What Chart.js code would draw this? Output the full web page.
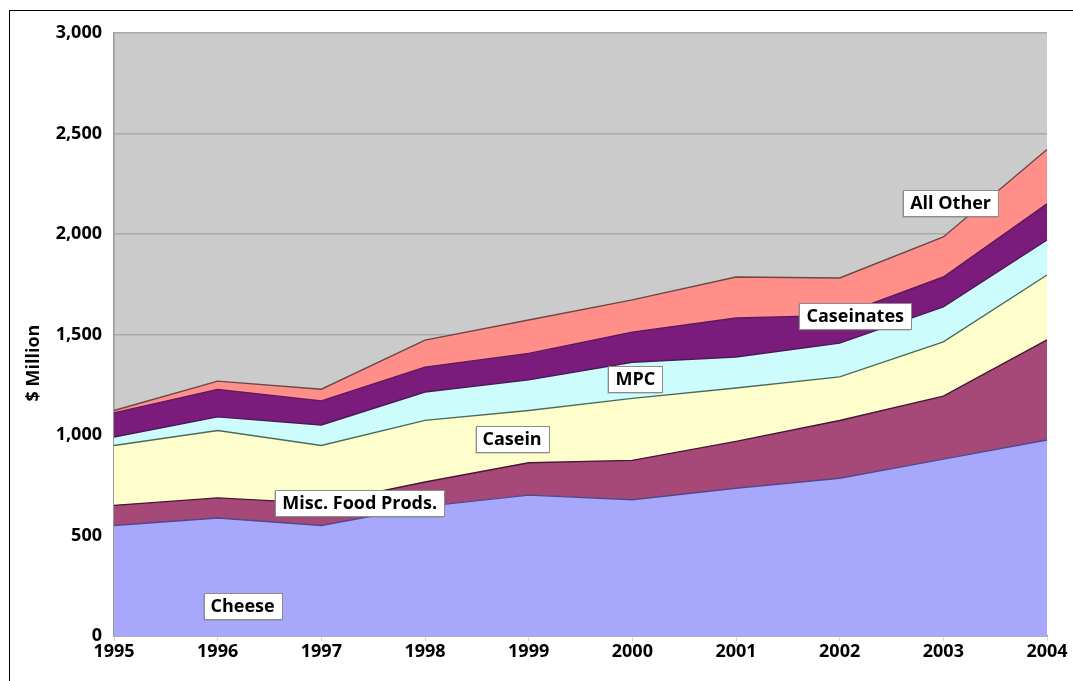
<!DOCTYPE html>
<html>
<head>
<meta charset="utf-8">
<title>U.S. dairy product imports, $ Million</title>
<script src="https://cdn.jsdelivr.net/npm/chart.js@4.4.1/dist/chart.umd.min.js"></script>
<style>
  html, body { margin: 0; padding: 0; background: #ffffff; }
  #wrap { position: relative; width: 1073px; height: 681px; }
  canvas { display: block; }
</style>
</head>
<body>
<div id="wrap"><canvas id="chart" width="1073" height="681"></canvas></div>
<script>
// Import values by product group, $ million
const years = ['1995', '1996', '1997', '1998', '1999', '2000', '2001', '2002', '2003', '2004'];
const cheese     = [550, 587, 550, 645, 701, 678, 735, 785, 880, 975];
const miscFood   = [100, 100, 110, 121, 161, 196, 233, 287, 313, 498];
const casein     = [298, 335, 288, 307, 260, 308, 266, 217, 270, 323];
const mpc        = [ 42,  68, 102, 141, 152, 180, 154, 168, 174, 174];
const caseinates = [120, 137, 120, 124, 132, 150, 194, 138, 149, 180];
const allOther   = [ 12,  41,  58, 134, 166, 160, 204, 186, 199, 270];
const yTicks = [0, 500, 1000, 1500, 2000, 2500, 3000];
const seriesNames = ['Cheese', 'Misc. Food Prods.', 'Casein', 'MPC', 'Caseinates', 'All Other'];

const FONT = '"Open Sans", "DejaVu Sans", sans-serif';

// Boxed series names, placed in data space (x = year index, y = $ million)
const areaLabels = [
  { text: seriesNames[0], x: 1.24, y: 149 },
  { text: seriesNames[1], x: 2.37, y: 662 },
  { text: seriesNames[2], x: 3.84, y: 980 },
  { text: seriesNames[3], x: 5.03, y: 1279 },
  { text: seriesNames[4], x: 7.15, y: 1592 },
  { text: seriesNames[5], x: 8.07, y: 2154 }
];

function area(label, data, fill, line, fillMode) {
  return {
    label: label,
    data: data,
    backgroundColor: fill,
    borderColor: line,
    borderWidth: 1.4,
    fill: fillMode,
    pointRadius: 0,
    pointHoverRadius: 0,
    tension: 0
  };
}

// Grey plot background
const plotBackground = {
  id: 'plotBackground',
  beforeDraw(chart) {
    const a = chart.chartArea;
    const ctx = chart.ctx;
    ctx.save();
    ctx.fillStyle = '#cbcbcb';
    ctx.fillRect(a.left, a.top, a.right - a.left, a.bottom - a.top);
    ctx.restore();
  }
};

// Outer frame and rotated axis title
const frame = {
  id: 'frame',
  afterDraw(chart) {
    const ctx = chart.ctx;
    ctx.save();
    ctx.strokeStyle = '#000000';
    ctx.lineWidth = 1;
    ctx.strokeRect(9.5, 10.5, 1100, 700);
    ctx.translate(34, 363);
    ctx.rotate(-Math.PI / 2);
    ctx.fillStyle = '#000000';
    ctx.font = 'bold 18px ' + FONT;
    ctx.textAlign = 'center';
    ctx.textBaseline = 'middle';
    ctx.fillText('$ Million', 0, 0);
    ctx.restore();
  }
};

// White boxed labels on the areas
const boxedLabels = {
  id: 'boxedLabels',
  afterDatasetsDraw(chart) {
    const ctx = chart.ctx;
    const xs = chart.scales.x, ys = chart.scales.y;
    ctx.save();
    ctx.font = 'bold 18px ' + FONT;
    ctx.textAlign = 'center';
    ctx.textBaseline = 'middle';
    areaLabels.forEach(l => {
      const cx = xs.getPixelForValue(l.x);
      const cy = ys.getPixelForValue(l.y);
      const w = Math.round(ctx.measureText(l.text).width + 14);
      const h = 26;
      const x0 = Math.round(cx - w / 2) + 0.5;
      const y0 = Math.round(cy - h / 2) + 0.5;
      ctx.fillStyle = 'rgba(110,110,110,0.55)';
      ctx.fillRect(x0 - 1, y0 + 1, w, h);
      ctx.fillStyle = '#ffffff';
      ctx.fillRect(x0, y0, w, h);
      ctx.strokeStyle = '#8c8c8c';
      ctx.lineWidth = 1;
      ctx.strokeRect(x0, y0, w, h);
      ctx.fillStyle = '#000000';
      ctx.fillText(l.text, cx, cy + 1);
    });
    ctx.restore();
  }
};

new Chart(document.getElementById('chart'), {
  type: 'line',
  data: {
    labels: years,
    datasets: [
      area(seriesNames[0], cheese,     '#a7a7fb', '#54488a', 'origin'),
      area(seriesNames[1], miscFood,   '#a64878', '#4a1636', '-1'),
      area(seriesNames[2], casein,     '#fefecd', '#4c6a5a', '-1'),
      area(seriesNames[3], mpc,        '#cdfcfc', '#4a1a58', '-1'),
      area(seriesNames[4], caseinates, '#7b1b7b', '#5c1a5c', '-1'),
      area(seriesNames[5], allOther,   '#ff8f88', '#6a4848', '-1')
    ]
  },
  options: {
    responsive: false,
    animation: false,
    events: [],
    layout: { padding: { left: 0, right: 26, top: 33, bottom: 0 } },
    plugins: {
      legend: { display: false },
      tooltip: { enabled: false },
      title: { display: false }
    },
    scales: {
      x: {
        type: 'category',
        offset: false,
        grid: {
          drawOnChartArea: false,
          drawTicks: true,
          tickLength: 5,
          color: '#d6d6d6'
        },
        border: { display: true, color: '#8a8aa6', width: 1.5 },
        ticks: {
          padding: 0,
          maxRotation: 0,
          autoSkip: false,
          color: '#000000',
          font: { family: FONT, size: 18, weight: 'bold' }
        },
        afterFit(scale) { scale.height = 45; }
      },
      y: {
        stacked: true,
        min: 0,
        max: 3000,
        afterBuildTicks(scale) { scale.ticks = yTicks.map(v => ({ value: v })); },
        grid: {
          color: '#aaaaaa',
          lineWidth: 1.5,
          drawTicks: false
        },
        border: { display: true, color: '#9a9a9a', width: 1.5 },
        ticks: {
          padding: 12,
          color: '#000000',
          font: { family: FONT, size: 18, weight: 'bold' },
          callback: v => v.toLocaleString('en-US')
        },
        afterFit(scale) { scale.width = 114; }
      }
    }
  },
  plugins: [plotBackground, boxedLabels, frame]
});
</script>
</body>
</html>
